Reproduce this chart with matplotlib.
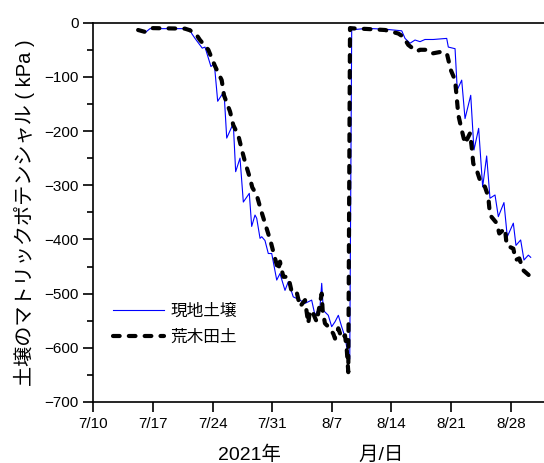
import datetime as dt

import matplotlib
matplotlib.use("Agg")
import matplotlib.dates as mdates
import matplotlib.pyplot as plt
from matplotlib.ticker import FuncFormatter, MultipleLocator

# days since 2021-07-10, matric potential in kPa
genchi_day = [5.25, 6.19, 6.65, 11.35, 11.55, 11.94, 12.79, 13.11, 13.81, 14.20,
              14.60, 15.34, 15.66, 16.43, 16.71, 17.22, 17.61, 18.31, 18.59, 18.98,
              19.18, 19.57, 19.77, 20.15, 20.54, 20.94, 21.53, 21.91, 22.50, 22.89,
              23.47, 24.26, 24.85, 25.63, 26.02, 26.61, 26.81, 27.00, 27.58, 27.98,
              28.37, 28.76, 29.15, 29.54, 29.74, 29.93, 30.10, 30.33,
              30.45, 32.09, 34.24, 36.20, 36.59, 37.17, 37.76, 38.35, 38.93, 39.91,
              40.69, 41.48, 41.67, 42.46, 42.72, 43.24, 43.63, 44.30, 44.68, 45.23,
              45.70, 46.17, 46.56, 47.15, 47.54, 48.20, 48.59, 49.30, 49.61, 50.16,
              50.55, 51.06, 51.34]
genchi_kpa = [-15, -17, -11, -11, -20, -29, -47, -45, -81, -75,
              -145, -127, -213, -186, -275, -250, -331, -315, -376, -355,
              -361, -398, -395, -402, -426, -426, -475, -463, -494, -478,
              -506, -512, -518, -512, -540, -524, -481, -531, -540, -561,
              -552, -540, -561, -580, -598, -630, -620, -12,
              -13, -10.5, -12, -15, -29, -38, -32, -35, -31, -31,
              -30, -29, -45, -48, -124, -106, -177, -134, -235, -195,
              -303, -246, -324, -318, -358, -332, -395, -370, -411, -401,
              -438, -429, -433]

arakida_day = [5.26, 6.07, 6.89, 10.76, 11.35, 12.14, 12.52, 13.50, 14.28, 15.07,
               15.34, 16.05, 16.43, 17.02, 17.49, 17.81, 18.39, 18.66, 19.18, 19.68,
               20.27, 20.82, 21.33, 21.71, 21.91, 22.30, 22.89, 23.29, 23.87, 24.26,
               24.85, 25.23, 25.43, 25.82, 26.22, 26.81, 26.92, 27.19, 27.58, 28.17,
               28.37, 28.76, 29.15, 29.54, 29.74, 29.93, 30.13,
               30.52, 32.09, 34.24, 35.80, 36.38, 36.97, 37.96, 38.35, 39.13, 39.72,
               41.08, 41.55, 41.95, 42.46, 42.65, 42.84, 43.24, 43.63, 44.22, 44.41,
               44.60, 45.00, 45.39, 45.97, 46.36, 46.56, 47.35, 47.65, 48.32, 48.52,
               49.30, 49.58, 50.00, 50.47, 51.34]
arakida_kpa = [-13.5, -17, -10, -11, -14, -23, -32, -50, -80, -106,
               -134, -164, -189, -208, -238, -257, -287, -304, -318, -346,
               -376, -404, -435, -457, -441, -469, -469, -497, -497, -524,
               -512, -555, -531, -537, -552, -500, -531, -555, -561, -574,
               -583, -564, -583, -577, -601, -645, -10,
               -10.5, -11.6, -13.5, -20, -26, -41, -53, -50, -50, -57,
               -53, -60, -87, -106, -137, -170, -198, -223, -204, -229,
               -260, -272, -291, -303, -321, -355, -370, -389, -380, -411,
               -417, -438, -435, -457, -469]

start = dt.datetime(2021, 7, 10)
x_ticks = [start + dt.timedelta(days=7 * i) for i in range(8)]


def to_num(days):
    base = mdates.date2num(start)
    return [base + d for d in days]


plt.rcParams["font.family"] = ["Liberation Sans", "Noto Sans CJK JP"]

fig = plt.figure(figsize=(5.44, 4.63), dpi=100)
ax = fig.add_axes([0.1715, 0.1318, 0.8285, 0.8192])

ax.plot(to_num(genchi_day), genchi_kpa, color="#0000ff", lw=0.8, label="現地土壌")
ax.plot(to_num(arakida_day), arakida_kpa, color="black", lw=3.0,
        ls=(0, (1.6, 2.2)), dash_capstyle="round", label="荒木田土")

base = mdates.date2num(start)
ax.set_xlim(base, base + 52.9)
ax.set_ylim(-700, 0)
ax.set_xticks([mdates.date2num(t) for t in x_ticks])
ax.xaxis.set_major_formatter(FuncFormatter(
    lambda v, p: f"{mdates.num2date(v).month}/{mdates.num2date(v).day}"))
ax.yaxis.set_major_locator(MultipleLocator(100))
ax.yaxis.set_minor_locator(MultipleLocator(50))

for s in ["left", "bottom", "top"]:
    ax.spines[s].set_linewidth(1.2)
ax.spines["right"].set_visible(False)
ax.tick_params(axis="both", which="major", direction="out", length=7, width=1.2,
               labelsize=11)
ax.tick_params(axis="y", which="minor", direction="out", length=4, width=1.2)

ax.set_ylabel("土壌のマトリックポテンシャル ( kPa )", fontsize=14.5, labelpad=7)
ax.set_xlabel("2021年　　　　月/日", fontsize=14, labelpad=10)
ax.xaxis.set_label_coords(0.483, -0.115)

ax.legend(frameon=False, loc="center left", bbox_to_anchor=(0.044, 0.205),
          borderpad=0, borderaxespad=0, handlelength=3.05, handletextpad=0.4,
          labelspacing=0.65, fontsize=12)

fig.savefig("out.png", dpi=100)
